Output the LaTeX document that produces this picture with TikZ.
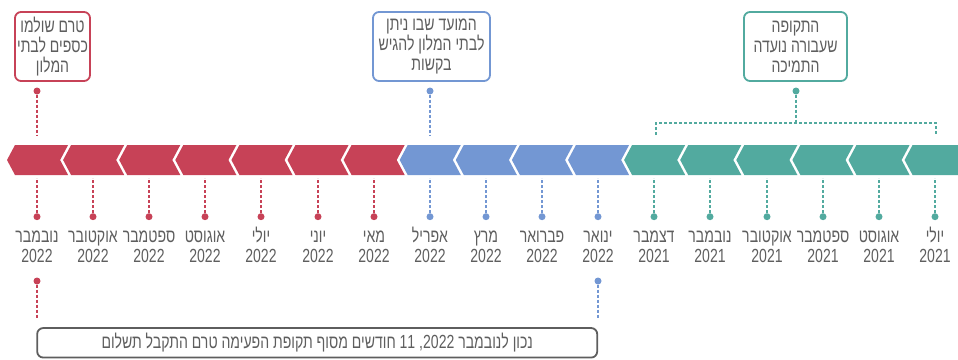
\documentclass[tikz,border=0pt]{standalone}
\usepackage{fontspec}
\setmainfont[Script=Hebrew,FakeStretch=0.74]{Liberation Sans}
\TeXXeTstate=1
\definecolor{hotelred}{HTML}{C74257}
\definecolor{hotelblue}{HTML}{7397D3}
\definecolor{hotelteal}{HTML}{52AA9F}
\definecolor{labelgray}{HTML}{5E5E5E}
\tikzset{
  pin/.style={circle, fill=#1, inner sep=0pt, minimum size=7pt},
  stem/.style={draw=#1, dash pattern=on 3pt off 2pt, line width=1.6pt},
  note/.style={draw=#1, rounded corners=6pt, line width=1.8pt, align=center, text=labelgray, inner sep=0pt, font=\fontsize{19}{20}\selectfont},
  month/.style={text=labelgray, align=center, inner sep=0pt, font=\fontsize{19}{20}\selectfont},
}
\begin{document}
\begin{tikzpicture}[x=1pt,y=-1pt]
    \useasboundingbox (0,0) rectangle (958,359);
    \foreach \k/\c in {0/hotelred,1/hotelred,2/hotelred,3/hotelred,4/hotelred,5/hotelred,6/hotelred,7/hotelblue,8/hotelblue,9/hotelblue,10/hotelblue,11/hotelteal,12/hotelteal,13/hotelteal,14/hotelteal,15/hotelteal}
        \fill[\c] (7+56.1*\k,160) -- (15+56.1*\k,145) -- (68.1+56.1*\k,145) -- (60.1+56.1*\k,160) -- (68.1+56.1*\k,175) -- (15+56.1*\k,175) -- cycle;
    \fill[hotelteal] (904.6,160) -- (912.6,145) -- (958,145) -- (958,175) -- (912.6,175) -- cycle;
    \foreach \k/\c/\m/\y in {0/hotelred/נובמבר/2022,1/hotelred/אוקטובר/2022,2/hotelred/ספטמבר/2022,3/hotelred/אוגוסט/2022,4/hotelred/יולי/2022,5/hotelred/יוני/2022,6/hotelred/מאי/2022,7/hotelblue/אפריל/2022,8/hotelblue/מרץ/2022,9/hotelblue/פברואר/2022,10/hotelblue/ינואר/2022,11/hotelteal/דצמבר/2021,12/hotelteal/נובמבר/2021,13/hotelteal/אוקטובר/2021,14/hotelteal/ספטמבר/2021,15/hotelteal/אוגוסט/2021,16/hotelteal/יולי/2021}{
        \pgfmathsetmacro\mx{round(37+56.12*\k)}
        \node[pin=\c] (d\k) at (\mx,216.7) {};
        \coordinate (b\k) at (\mx,178);
        \draw[stem=\c] (d\k) -- (b\k);
        \node[month] (m\k) at (\mx,248) {\beginR\m\endR\strut\\\y\strut};
    }
    \node[note=hotelred, minimum width=75pt, minimum height=69pt] (unpaid) at (52.5,46.5) {\beginR טרם שולמו\endR\\\beginR כספים לבתי\endR\\\beginR המלון\endR};
    \node[note=hotelblue, minimum width=117pt, minimum height=69pt] (requests) at (431.5,46.5) {\beginR המועד שבו ניתן\endR\\\beginR לבתי המלון להגיש\endR\\\beginR בקשות\endR};
    \node[note=hotelteal, minimum width=103pt, minimum height=69pt] (period) at (795.5,46.5) {\beginR התקופה\endR\\\beginR שעבורה נועדה\endR\\\beginR התמיכה\endR};
    \node[pin=hotelred] (unpaiddot) at (37,91) {};
    \node[pin=hotelblue] (requestsdot) at (430,91) {};
    \node[pin=hotelteal] (perioddot) at (796,91) {};
    \coordinate (unpaidend) at (37,135);
    \coordinate (requestsend) at (430,135);
    \coordinate (periodend) at (796,123);
    \coordinate (bracketl) at (656,135);
    \coordinate (bracketr) at (936,135);
    \draw[stem=hotelred] (unpaiddot) -- (unpaidend);
    \draw[stem=hotelblue] (requestsdot) -- (requestsend);
    \draw[stem=hotelteal] (perioddot) -- (periodend);
    \draw[stem=hotelteal] (bracketl) |- (periodend) -| (bracketr);
    \node[note=labelgray, minimum width=560pt, minimum height=29.5pt] (status) at (317.2,342.8) {\beginR נכון לנובמבר \beginL 11 \hbox{,}2022\endL{} חודשים מסוף תקופת הפעימה טרם התקבל תשלום\endR};
    \node[pin=hotelred] (statusl) at (37,281) {};
    \node[pin=hotelblue] (statusr) at (598,281) {};
    \coordinate (statuslend) at (37,318);
    \coordinate (statusrend) at (598,318);
    \draw[stem=hotelred] (statusl) -- (statuslend);
    \draw[stem=hotelblue] (statusr) -- (statusrend);
\end{tikzpicture}
\end{document}
